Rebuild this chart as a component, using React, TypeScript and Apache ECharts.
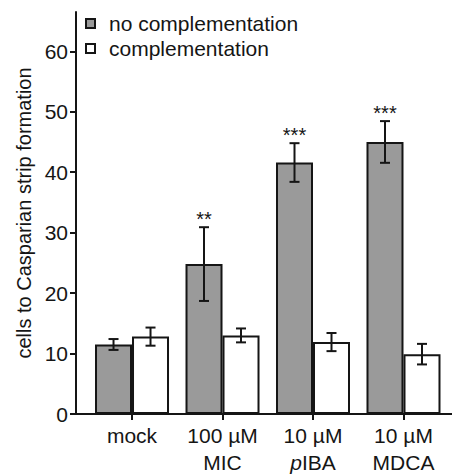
import React, { useEffect, useRef } from "react";
import * as echarts from "echarts";

const CATEGORIES = ["mock", "100 µM\nMIC", "10 µM\n{it|p}IBA", "10 µM\nMDCA"];
const NO_COMP = [11.5, 24.8, 41.6, 45.0];
const NO_COMP_ERR = [0.9, 6.1, 3.2, 3.45];
const COMP = [12.8, 13.0, 11.9, 9.9];
const COMP_ERR = [1.5, 1.15, 1.5, 1.7];
const NO_COMP_SIGNIF = ["", "**", "***", "***"];
const COMP_SIGNIF = ["", "", "", ""];
const Y_TICKS = [0, 10, 20, 30, 40, 50, 60];
const X_TICKS = [0, 1, 2, 3];

const FONT = "'Liberation Sans', Arial, Helvetica, sans-serif";
const INK = "#151515";
const GRAY = "#9a9a9a";
const BAR_W = 37;

function errorSeries(name: string, means: number[], errs: number[], stars: string[], offset: number) {
  return {
    name: name + " err",
    type: "custom",
    z: 5,
    silent: true,
    data: means.map((m, i) => [i, m, errs[i]]),
    renderItem: (params: any, api: any) => {
      const x = api.value(0);
      const m = api.value(1);
      const e = api.value(2);
      const top = api.coord([x, m + e]);
      const bot = api.coord([x, m - e]);
      const cx = top[0] + offset;
      const st = { stroke: INK, lineWidth: 2 };
      const children: any[] = [
        { type: "line", shape: { x1: cx, y1: top[1], x2: cx, y2: bot[1] }, style: st },
        { type: "line", shape: { x1: cx - 5, y1: top[1], x2: cx + 5, y2: top[1] }, style: st },
        { type: "line", shape: { x1: cx - 5, y1: bot[1], x2: cx + 5, y2: bot[1] }, style: st },
      ];
      const s = stars[params.dataIndex];
      if (s) {
        children.push({
          type: "text",
          x: cx,
          y: top[1] + 2,
          style: {
            text: s,
            fill: INK,
            font: `20px ${FONT}`,
            align: "center",
            verticalAlign: "bottom",
          },
        });
      }
      return { type: "group", children };
    },
  };
}

export default function App() {
  const ref = useRef<HTMLDivElement>(null);
  useEffect(() => {
    if (!ref.current) return;
    const chart = echarts.init(ref.current, null, { renderer: "svg" });
    chart.setOption({
      animation: false,
      backgroundColor: "#ffffff",
      textStyle: { fontFamily: FONT },
      grid: { left: 76, right: 0, top: 12, bottom: 58, containLabel: false },
      legend: {
        orient: "vertical",
        left: 85,
        top: 13,
        padding: 0,
        itemWidth: 9,
        itemHeight: 9,
        itemGap: 4,
        icon: "rect",
        textStyle: { fontSize: 21, color: INK, fontFamily: FONT, lineHeight: 21, padding: [0, 0, 0, 9] },
        data: [
          { name: "no complementation", itemStyle: { color: GRAY, borderColor: INK, borderWidth: 2 } },
          { name: "complementation", itemStyle: { color: "#ffffff", borderColor: INK, borderWidth: 2 } },
        ],
      },
      xAxis: {
        type: "value",
        min: -0.619,
        max: 3.536,
        splitLine: { show: false },
        axisLine: { show: true, onZero: false, lineStyle: { color: INK, width: 2 } },
        axisTick: { show: true, customValues: X_TICKS, length: 6, lineStyle: { color: INK, width: 2 } },
        axisLabel: {
          customValues: X_TICKS,
          margin: 8,
          fontSize: 21,
          lineHeight: 27,
          color: INK,
          fontFamily: FONT,
          formatter: (v: number) => CATEGORIES[Math.round(v)] ?? "",
          rich: {
            it: { fontStyle: "italic", fontSize: 21, lineHeight: 27, color: INK, fontFamily: FONT },
          },
        },
      },
      yAxis: {
        type: "value",
        min: 0,
        max: 66.5,
        name: "cells to Casparian strip formation",
        nameLocation: "middle",
        nameRotate: 90,
        nameGap: 36,
        nameTextStyle: { fontSize: 20, color: INK, fontFamily: FONT },
        splitLine: { show: false },
        axisLine: { show: true, onZero: false, lineStyle: { color: INK, width: 2 } },
        axisTick: { show: true, customValues: Y_TICKS, length: 6, lineStyle: { color: INK, width: 2 } },
        axisLabel: { customValues: Y_TICKS, margin: 8, fontSize: 21, color: INK, fontFamily: FONT },
      },
      series: [
        {
          name: "no complementation",
          type: "bar",
          barWidth: BAR_W,
          barGap: "0%",
          data: NO_COMP.map((v, i) => [i, v]),
          itemStyle: { color: GRAY, borderColor: INK, borderWidth: 2 },
        },
        {
          name: "complementation",
          type: "bar",
          barWidth: BAR_W,
          barGap: "0%",
          data: COMP.map((v, i) => [i, v]),
          itemStyle: { color: "#ffffff", borderColor: INK, borderWidth: 2 },
        },
        errorSeries("no complementation", NO_COMP, NO_COMP_ERR, NO_COMP_SIGNIF, -BAR_W / 2),
        errorSeries("complementation", COMP, COMP_ERR, COMP_SIGNIF, BAR_W / 2),
      ],
    });
    return () => chart.dispose();
  }, []);
  return <div ref={ref} style={{ position: "fixed", left: 0, top: 0, width: 452, height: 476 }} />;
}
